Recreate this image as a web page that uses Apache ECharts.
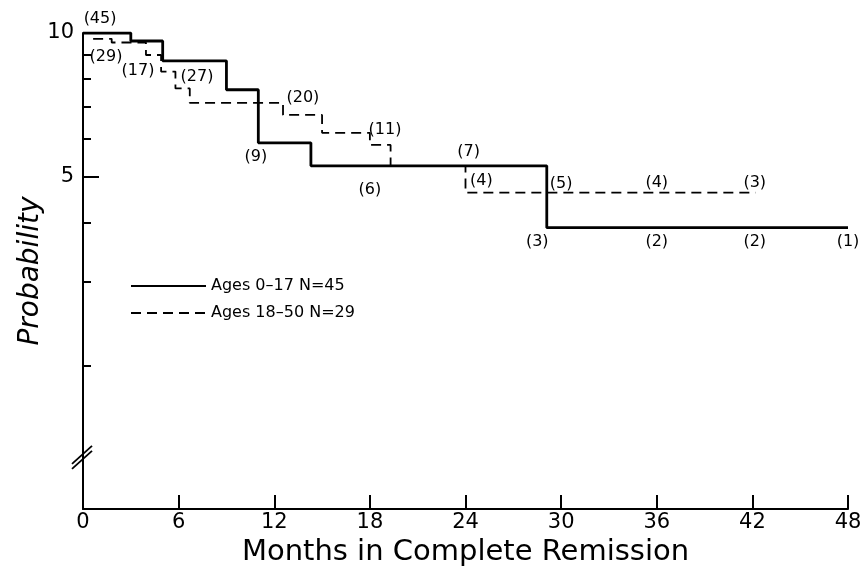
<!DOCTYPE html>
<html>
<head>
<meta charset="utf-8">
<script src="https://cdn.jsdelivr.net/npm/echarts@6/dist/echarts.min.js"></script>
<style>
    html, body { margin: 0; padding: 0; background: #fff; }
    #chart { width: 865px; height: 572px; }
</style>
</head>
<body>
<div id="chart"></div>
<script>
// months and survival probability (step curves)
const youngMonths = [0, 3, 5, 9, 11, 14.3, 29.1, 48];
const youngProb = [1.0, 0.962, 0.874, 0.760, 0.588, 0.526, 0.390, 0.390];

const adultMonths = [0, 0.6, 1.8, 3.95, 4.9, 5.8, 6.7, 12.55, 15.0, 18.0, 19.3, 24.0, 42.2];
const adultProb = [1.0, 0.972, 0.955, 0.899, 0.83, 0.765, 0.713, 0.673, 0.617, 0.582, 0.526, 0.462, 0.462];

// numbers at risk: month, probability, text
const riskMonths = [1.07, 1.44, 3.45, 7.15, 10.85, 13.8, 18.95, 18.0, 24.2, 25.0, 30.0, 36.0, 42.15, 28.5, 36.0, 42.15, 48.0];
const riskProb = [1.07, 0.891, 0.833, 0.809, 0.549, 0.731, 0.626, 0.469, 0.563, 0.49, 0.482, 0.485, 0.485, 0.365, 0.365, 0.365, 0.365];
const riskText = ['(45)', '(29)', '(17)', '(27)', '(9)', '(20)', '(11)', '(6)', '(7)', '(4)', '(5)', '(4)', '(3)', '(3)', '(2)', '(2)', '(1)'];

const monthTicks = [0, 6, 12, 18, 24, 30, 36, 42, 48];
const probMinorTicks = [0.2, 0.3, 0.4, 0.6, 0.7, 0.8, 0.9];
const probLabels = [1.0, 0.5];

const FONT = 'DejaVu Sans';
const INK = '#000';

const zip = (xs, ys) => xs.map((x, i) => [x, ys[i]]);

const chart = echarts.init(document.getElementById('chart'));

const axisBase = {
    type: 'log',
    logBase: 10,
    min: 0.1,
    max: 1,
    splitLine: { show: false },
    minorTick: { show: false },
};

chart.setOption({
    backgroundColor: '#fff',
    animation: false,
    grid: { left: 83, right: 17, top: 33, bottom: 62 },
    legend: {
        orient: 'vertical',
        left: 125,
        top: 273,
        itemWidth: 75,
        itemHeight: 12,
        itemGap: 11,
        itemStyle: { opacity: 0 },
        data: ['Ages 0\u201317 N=45', 'Ages 18\u201350 N=29'],
        textStyle: { fontFamily: FONT, fontSize: 16, color: INK },
    },
    xAxis: {
        type: 'value',
        min: 0,
        max: 48,
        interval: 6,
        name: 'Months in Complete Remission',
        nameLocation: 'middle',
        nameGap: 28,
        nameTextStyle: { fontFamily: FONT, fontSize: 29, color: INK },
        axisLine: { lineStyle: { color: INK, width: 2 } },
        axisTick: { inside: true, length: 14, lineStyle: { color: INK, width: 2 } },
        axisLabel: { margin: 3, fontFamily: FONT, fontSize: 21, color: INK, customValues: monthTicks },
        splitLine: { show: false },
    },
    yAxis: [
        {
            ...axisBase,
            name: 'Probability',
            nameLocation: 'middle',
            nameGap: 38,
            nameTextStyle: { fontFamily: FONT, fontSize: 28, fontStyle: 'italic', color: INK },
            axisLine: { lineStyle: { color: INK, width: 2 } },
            axisTick: { inside: true, length: 8, lineStyle: { color: INK, width: 2 }, customValues: probMinorTicks },
            axisLabel: { show: false },
        },
        {
            ...axisBase,
            position: 'left',
            axisLine: { show: false },
            axisTick: { inside: true, length: 16, lineStyle: { color: INK, width: 2 }, customValues: [0.5] },
            axisLabel: {
                margin: 9,
                fontFamily: FONT,
                fontSize: 21,
                color: INK,
                customValues: probLabels,
                formatter: (v) => String(Math.round(v * 10)),
            },
        },
    ],
    series: [
        {
            name: 'Ages 0\u201317 N=45',
            type: 'line',
            step: 'end',
            symbol: 'none',
            data: zip(youngMonths, youngProb),
            lineStyle: { color: INK, width: 2.8 },
            itemStyle: { color: INK },
            z: 3,
        },
        {
            name: 'Ages 18\u201350 N=29',
            type: 'line',
            step: 'end',
            symbol: 'none',
            data: zip(adultMonths, adultProb),
            lineStyle: { color: INK, width: 1.8, type: [10, 6] },
            itemStyle: { color: INK },
            z: 2,
        },
        {
            name: 'at risk',
            type: 'scatter',
            symbolSize: 0,
            clip: false,
            silent: true,
            itemStyle: { opacity: 1 },
            data: riskMonths.map((m, i) => [m, riskProb[i], riskText[i]]),
            label: {
                show: true,
                position: 'inside',
                formatter: (p) => p.value[2],
                fontFamily: FONT,
                fontSize: 16,
                color: INK,
            },
        },
    ],
});

// axis break marks on the probability axis
const [bx, by] = chart.convertToPixel({ xAxisIndex: 0, yAxisIndex: 0 }, [0, 0.13]);
chart.setOption({
    graphic: [0, 5].map((off) => ({
        type: 'line',
        shape: { x1: bx - 11, y1: by + 9 + off, x2: bx + 9, y2: by - 9 + off },
        style: { stroke: INK, lineWidth: 1.8 },
        silent: true,
    })),
});
</script>
</body>
</html>
